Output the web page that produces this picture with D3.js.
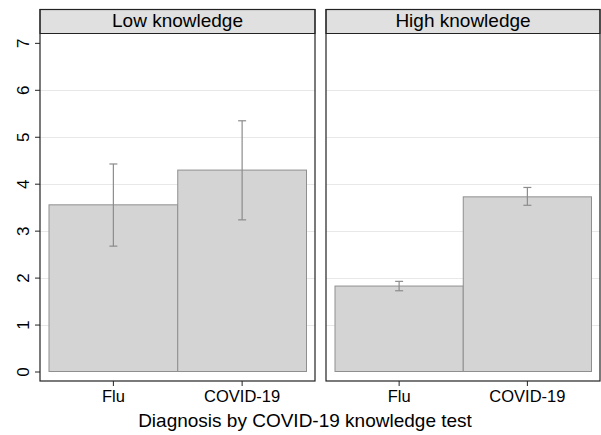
<!DOCTYPE html>
<html>
<head>
<meta charset="utf-8">
<script src="https://cdn.jsdelivr.net/npm/d3@7"></script>
<style>
  html, body { margin: 0; padding: 0; background: #fff; }
  svg { display: block; }
  text { font-family: "Liberation Sans", Arial, Helvetica, sans-serif; fill: #000; }
</style>
</head>
<body>
<svg id="chart" width="601" height="435"></svg>
<script>
// ---- data ----
const panels = ["Low knowledge", "High knowledge"];
const categories = ["Flu", "COVID-19"];
const means = [[3.55, 4.29], [1.82, 3.72]];
const ciLow = [[2.67, 3.23], [1.72, 3.54]];
const ciHigh = [[4.42, 5.34], [1.92, 3.92]];
const yTicks = [0, 1, 2, 3, 4, 5, 6, 7];
const gridTicks = [1, 2, 3, 4, 5, 6];
const xTitle = "Diagnosis by COVID-19 knowledge test";

// ---- layout ----
const svg = d3.select("#chart");
const panelBoxes = [{ x0: 40, x1: 315 }, { x0: 326, x1: 600 }];
const stripTop = 9.5, stripBottom = 33.5, panelBottom = 381;
const y = d3.scaleLinear().domain([0, 7]).range([371.5, 42.85]);

// y axis (left of first panel)
const yAxis = d3.axisLeft(y).tickValues(yTicks).tickSize(5).tickFormat(d3.format("d"));
const yg = svg.append("g").attr("transform", `translate(${panelBoxes[0].x0},0)`).call(yAxis);
yg.select(".domain").remove();
yg.selectAll(".tick line").attr("stroke", "#222");
yg.selectAll(".tick text")
  .attr("font-size", 17)
  .attr("x", 0).attr("dy", 0)
  .attr("text-anchor", "middle")
  .attr("transform", "translate(-11,0) rotate(-90)")
  .style("font-family", '"Liberation Sans", Arial, sans-serif');

panels.forEach((p, i) => {
  const b = panelBoxes[i];
  const g = svg.append("g");
  const x = d3.scaleBand().domain(categories).range([b.x0 + 9, b.x1 - 8.5]).paddingInner(0).paddingOuter(0);

  // grid
  g.selectAll("line.grid").data(gridTicks).join("line")
    .attr("x1", b.x0).attr("x2", b.x1)
    .attr("y1", d => Math.round(y(d)) + 0.5).attr("y2", d => Math.round(y(d)) + 0.5)
    .attr("stroke", "#e8e8e8").attr("stroke-width", 1);

  // bars
  g.selectAll("rect.bar").data(categories).join("rect")
    .attr("x", d => x(d))
    .attr("width", x.bandwidth())
    .attr("y", (d, j) => y(means[i][j]))
    .attr("height", (d, j) => y(0) - y(means[i][j]))
    .attr("fill", "#d3d4d3").attr("stroke", "#8f8f8f").attr("stroke-width", 1);

  // error bars
  const eg = g.selectAll("g.err").data(categories).join("g")
    .attr("transform", d => `translate(${x(d) + x.bandwidth() / 2},0)`);
  eg.append("line")
    .attr("y1", (d, j) => y(ciLow[i][j])).attr("y2", (d, j) => y(ciHigh[i][j]))
    .attr("stroke", "#8c8c8c").attr("stroke-width", 1.2);
  eg.append("line").attr("x1", -4).attr("x2", 4)
    .attr("y1", (d, j) => y(ciLow[i][j])).attr("y2", (d, j) => y(ciLow[i][j]))
    .attr("stroke", "#8c8c8c").attr("stroke-width", 1.2);
  eg.append("line").attr("x1", -4).attr("x2", 4)
    .attr("y1", (d, j) => y(ciHigh[i][j])).attr("y2", (d, j) => y(ciHigh[i][j]))
    .attr("stroke", "#8c8c8c").attr("stroke-width", 1.2);

  // strip
  g.append("rect").attr("x", b.x0).attr("y", stripTop)
    .attr("width", b.x1 - b.x0).attr("height", stripBottom - stripTop)
    .attr("fill", "#dfe0df").attr("stroke", "#222").attr("stroke-width", 1);
  g.append("text").attr("x", (b.x0 + b.x1) / 2).attr("y", 27)
    .attr("text-anchor", "middle").attr("font-size", 19).text(p);

  // panel frame
  g.append("rect").attr("x", b.x0).attr("y", stripTop)
    .attr("width", b.x1 - b.x0).attr("height", panelBottom - stripTop)
    .attr("fill", "none").attr("stroke", "#222").attr("stroke-width", 1.2);

  // x axis
  const xa = d3.axisBottom(x).tickSize(5).tickPadding(4);
  const xg = g.append("g").attr("transform", `translate(0,${panelBottom})`).call(xa);
  xg.select(".domain").remove();
  xg.selectAll(".tick line").attr("stroke", "#222");
  xg.selectAll(".tick text").attr("font-size", 16.5)
    .style("font-family", '"Liberation Sans", Arial, sans-serif');
});

svg.append("text").attr("x", 305).attr("y", 427)
  .attr("text-anchor", "middle").attr("font-size", 19).text(xTitle);
</script>
</body>
</html>
